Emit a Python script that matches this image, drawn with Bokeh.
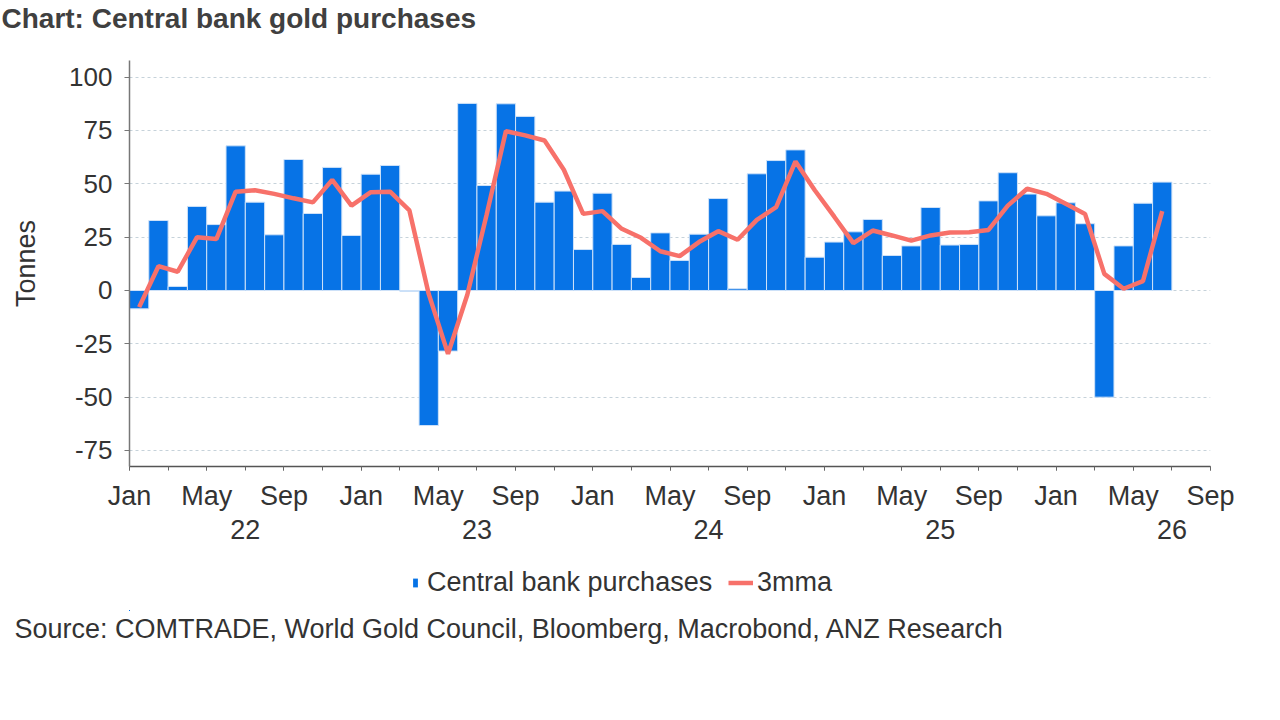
import numpy as np
from bokeh.plotting import figure
from bokeh.layouts import column
from bokeh.models import (ColumnDataSource, FixedTicker, LinearAxis, Legend,
                          LegendItem, Range1d, Title)
from bokeh.embed import file_html
from bokeh.resources import INLINE

# monthly central bank gold purchases, Jan 2022 .. Jun 2026 (tonnes)
purchases = [
    -8.6, 32.8, 1.9, 39.4, 30.9, 67.8, 41.4, 26.1, 61.4, 36.1, 57.7, 25.8,   # 2022
    54.5, 58.6, -0.3, -63.3, -28.4, 87.7, 49.2, 87.5, 81.6, 41.4, 46.6, 19.2,  # 2023
    45.6, 21.6, 6.1, 27.0, 14.1, 26.4, 43.1, 0.8, 54.7, 60.9, 65.9, 15.6,     # 2024
    22.7, 27.5, 33.3, 16.4, 20.9, 38.9, 21.3, 21.6, 42.0, 55.2, 45.2, 35.0,   # 2025
    41.1, 31.3, -50.0, 20.9, 40.9, 50.8,                                      # 2026
]
mma3 = [
    -7.8, 11.4, 8.8, 25.0, 24.1, 46.3, 47.0, 45.3, 43.2, 41.3, 51.8, 39.8,
    46.1, 46.3, 37.5, -1.6, -29.7, -2.0, 35.5, 74.7, 72.7, 70.3, 56.6, 35.9,
    37.2, 28.9, 24.7, 18.4, 16.1, 22.7, 27.8, 23.8, 33.1, 39.1, 60.5, 47.0,
    34.7, 22.2, 28.1, 25.8, 23.4, 25.8, 27.2, 27.3, 28.4, 39.8, 47.7, 45.3,
    40.6, 35.9, 7.8, 0.8, 4.4, 37.2,
]
month_labels = ["Jan", "May", "Sep"]
years = ["22", "23", "24", "25", "26"]
yvals = [-75, -50, -25, 0, 25, 50, 75, 100]

BLUE = "#0773e6"
RED = "#f7716a"
TXT = "#333333"
FONT = "Liberation Sans"
FS = "27px"
W = 1264

x = np.arange(len(purchases)) + 0.5
src = ColumnDataSource(data=dict(x=x, purchases=purchases, mma=mma3))

# header: chart title only
head = figure(width=W, height=60, output_backend="svg", toolbar_location=None,
              x_range=Range1d(0, 1), y_range=Range1d(0, 1),
              min_border_top=0, min_border_bottom=0,
              x_axis_location=None, y_axis_location=None, outline_line_color=None)
head.grid.visible = False
head.title.text = "Chart: Central bank gold purchases"
head.title.text_font = FONT
head.title.text_font_size = "28px"
head.title.text_font_style = "bold"
head.title.text_color = "#404040"
head.title.align = "left"
head.title.offset = -128
head.title.standoff = 0

p = figure(width=W, height=488, output_backend="svg", toolbar_location=None,
           title_location=None,
           x_range=Range1d(0, 56), y_range=Range1d(-82.5, 107.8),
           min_border_left=129, min_border_right=54, min_border_top=0,
           min_border_bottom=82, outline_line_color=None)

bars = p.vbar(x="x", top="purchases", source=src, width=1.0, fill_color=BLUE,
              line_color="#cfe2f8", line_width=1)
line = p.line(x="x", y="mma", source=src, line_color=RED, line_width=4.5)

# grid
p.xgrid.grid_line_color = None
p.ygrid.grid_line_color = "#c6d2da"
p.ygrid.grid_line_dash = "3 3"
p.ygrid.ticker = FixedTicker(ticks=yvals)

# y axis
yax = p.yaxis[0]
yax.ticker = FixedTicker(ticks=yvals)
yax.major_label_overrides = {v: str(v) for v in yvals}
yax.axis_label = "Tonnes"
yax.axis_label_text_font = FONT
yax.axis_label_text_font_size = FS
yax.axis_label_text_font_style = "normal"
yax.axis_label_text_color = TXT
yax.axis_label_standoff = 25
yax.major_label_text_font = FONT
yax.major_label_text_font_size = "26px"
yax.major_label_text_color = TXT
yax.major_label_standoff = 12
yax.axis_line_color = "#777777"
yax.axis_line_width = 1.5
yax.major_tick_line_color = "#777777"
yax.major_tick_in = 0
yax.major_tick_out = 5
yax.minor_tick_line_color = None

# x axis: month labels
xticks = list(range(0, 57, 4))
xax = p.xaxis[0]
xax.ticker = FixedTicker(ticks=xticks, minor_ticks=list(range(0, 57, 2)))
xax.major_label_overrides = {t: month_labels[i % 3] for i, t in enumerate(xticks)}
xax.major_label_text_font = FONT
xax.major_label_text_font_size = FS
xax.major_label_text_color = TXT
xax.major_label_standoff = 10
xax.axis_line_color = "#555555"
xax.axis_line_width = 1.5
xax.major_tick_line_color = "#666666"
xax.major_tick_in = 0
xax.major_tick_out = 4
xax.minor_tick_line_color = "#666666"
xax.minor_tick_in = 0
xax.minor_tick_out = 4

# x axis: year labels
yticks = [6 + 12 * i for i in range(len(years))]
year_ax = LinearAxis(ticker=FixedTicker(ticks=yticks),
                     major_label_overrides=dict(zip(yticks, years)),
                     axis_line_color=None, major_tick_line_color=None,
                     minor_tick_line_color=None, major_label_standoff=0,
                     major_label_text_font=FONT, major_label_text_font_size=FS,
                     major_label_text_color=TXT)
p.add_layout(year_ax, "below")

# footer: legend and source note (same series, ranged far out of the footer's view)
foot = figure(width=W, height=96, output_backend="svg", toolbar_location=None,
              x_range=Range1d(1000, 1100), y_range=Range1d(1000, 1100),
              min_border_top=0, min_border_bottom=0,
              x_axis_location=None, y_axis_location=None, outline_line_color=None)
foot.grid.visible = False
key_bar = foot.vbar(x="x", top="purchases", source=src, width=1.0,
                    fill_color=BLUE, line_color=None)
key_line = foot.line(x="x", y="mma", source=src, line_color=RED, line_width=4.5)

leg_style = dict(label_text_font=FONT, label_text_font_size=FS,
                 label_text_color=TXT, border_line_color=None,
                 background_fill_alpha=0, padding=0, margin=0)
leg1 = Legend(items=[LegendItem(label="Central bank purchases", renderers=[key_bar])],
              glyph_width=6, glyph_height=11, label_standoff=9,
              location=(283, 12), **leg_style)
leg2 = Legend(items=[LegendItem(label="3mma", renderers=[key_line])],
              glyph_width=25, glyph_height=11, label_standoff=4,
              location=(599, 12), **leg_style)
foot.add_layout(leg1, "center")
foot.add_layout(leg2, "center")

foot.add_layout(Title(text="Source: COMTRADE, World Gold Council, Bloomberg, Macrobond, ANZ Research",
                      align="left", offset=-115, text_font=FONT, text_font_size=FS,
                      text_font_style="normal", text_color=TXT, standoff=2), "below")

open("out.html", "w").write(file_html(column(head, p, foot), INLINE))
